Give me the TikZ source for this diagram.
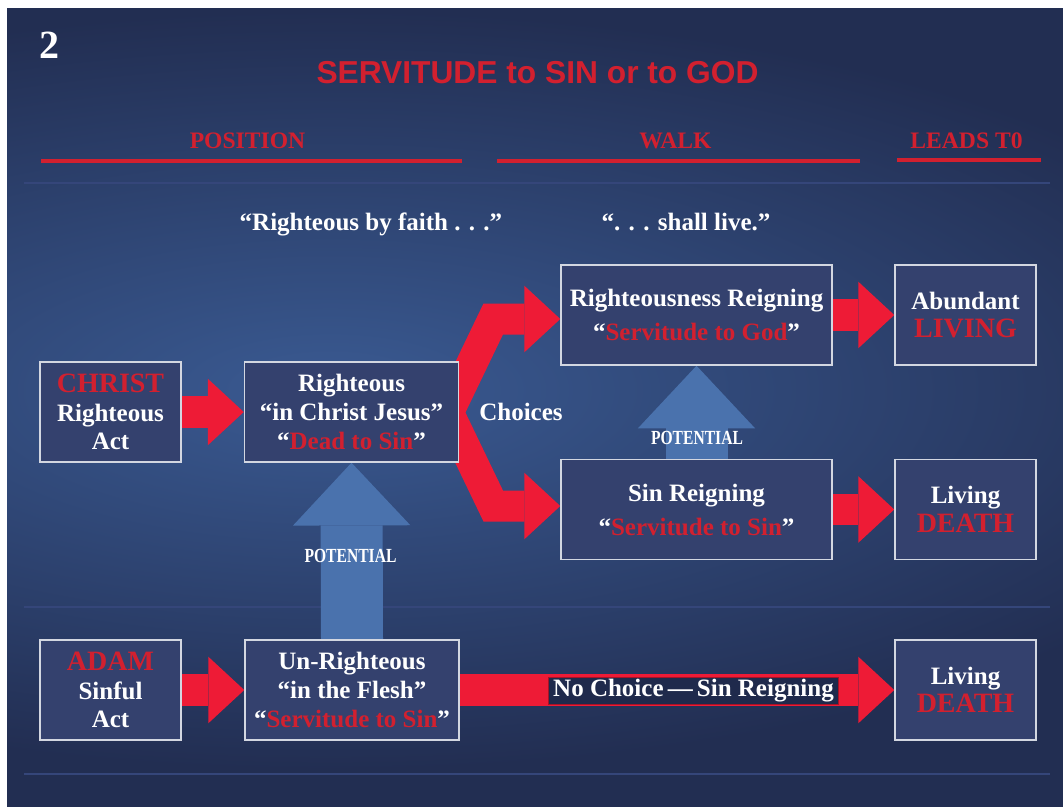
\documentclass[tikz,border=0pt]{standalone}
\usepackage{fontspec}
\setmainfont{Liberation Serif}
\newfontfamily\titlefont{Liberation Sans}
\newfontfamily\potfont{Liberation Serif}[FakeStretch=0.78]
\usepackage{xcolor}
\usetikzlibrary{arrows.meta, positioning, calc}

\definecolor{slidebg}{HTML}{222E52}
\definecolor{slideglow}{HTML}{3A5A92}
\definecolor{rulefaint}{HTML}{35467A}
\definecolor{boxfill}{HTML}{34416E}
\definecolor{boxline}{HTML}{D3D7E1}
\definecolor{arrowred}{HTML}{EE1B36}
\definecolor{txtred}{HTML}{D2202F}
\definecolor{potblue}{HTML}{4A72AD}
\definecolor{labelfill}{HTML}{1F2A4C}

\pgfdeclarelayer{backdrop}
\pgfdeclarelayer{links}
\pgfsetlayers{backdrop,links,main}

\newcommand{\slidefont}{\bfseries\fontsize{18.75}{21.5}\selectfont}
\newcommand{\redtxt}[1]{\textcolor{txtred}{#1}}
\newcommand{\bigred}[1]{{\fontsize{21}{21.5}\selectfont\textcolor{txtred}{#1}}}

\tikzset{
  slidebox/.style={rectangle, fill=boxfill, draw=boxline, line width=1.1pt, inner sep=0pt,
    align=center, minimum height=75pt, text=white, font=\slidefont},
  smallbox/.style={slidebox, minimum width=105.75pt},
  midbox/.style={slidebox, minimum width=160.5pt},
  widebox/.style={slidebox, minimum width=203.25pt},
  header/.style={anchor=base, text=txtred, font=\bfseries\fontsize{17.7}{20}\selectfont},
  saying/.style={anchor=base, text=white, font=\slidefont},
  potlabel/.style={anchor=base, text=white, font=\potfont\bfseries\fontsize{15}{16}\selectfont},
  redarrow/.style={draw=arrowred, line width=23.6pt, -{Triangle[length=27pt, width=50pt, line width=0pt]}},
  forkarrow/.style={redarrow, line width=23.25pt, line join=miter},
  bluearrow/.style={draw=potblue, line width=46.5pt, -{Triangle[length=47pt, width=88pt, line width=0pt]}},
  headrule/.style={draw=txtred, line width=3pt},
  faintrule/.style={draw=rulefaint, line width=2.2pt}
}

\begin{document}
\begin{tikzpicture}[x=0.75pt, y=-0.75pt]
  \useasboundingbox (0,0) rectangle (1063,807);

  % boxes
  \node[smallbox] (christ) at (110.5,412) {\bigred{CHRIST}\\Righteous\\Act};
  \node[midbox]   (rt)     at (351.5,412) {Righteous\\“in Christ Jesus”\\“\redtxt{Dead to Sin}”};
  \node[widebox]  (rr)     at (696.5,315) {Righteousness Reigning\\[4pt]“\redtxt{Servitude to God}”};
  \node[smallbox] (living) at (965.5,315) {Abundant\\\bigred{LIVING}};
  \node[widebox]  (sr)     at (696.5,509.5) {Sin Reigning\\[4pt]“\redtxt{Servitude to Sin}”};
  \node[smallbox] (death)  at (965.5,509.5) {Living\\\bigred{DEATH}};
  \node[smallbox] (adam)   at (110.5,690) {\bigred{ADAM}\\Sinful\\Act};
  \node[midbox]   (ur)     at (352,690) {Un-Righteous\\“in the Flesh”\\“\redtxt{Servitude to Sin}”};
  \node[smallbox] (death2) at (965.5,690) {Living\\\bigred{DEATH}};

  % titles and headings
  \node[anchor=base, text=white, font=\bfseries\fontsize{30}{32}\selectfont] (slideno) at (49.5,58) {2};
  \node[anchor=base, text=txtred, font=\titlefont\bfseries\fontsize{23.8}{26}\selectfont] (title) at (537.5,83) {SERVITUDE to SIN or to GOD};
  \node[header] (hpos)  at (247.5,148) {POSITION};
  \node[header] (hwalk) at (675.5,148) {WALK};
  \node[header] (hlead) at (966.5,148) {LEADS T0};
  \node[saying] (faith)   at (371,230) {“Righteous by faith . . .”};
  \node[saying] (live)    at (686,230) {“. . . shall live.”};
  \node[saying] (choices) at (521,420) {Choices};

  \node[potlabel] (potlow)  at (350.5,562.5) {POTENTIAL};
  \node[potlabel] (pothigh) at (697,444) {POTENTIAL};

  \node[fill=labelfill, draw=arrowred!70!black, line width=0.6pt, text=white, font=\slidefont,
        inner sep=0pt, minimum width=218pt, minimum height=20.6pt] (nochoice) at (693.5,691)
        {No Choice\,—\,Sin Reigning};

  % arrows
  \begin{pgfonlayer}{links}
    \draw[redarrow] (christ.east) -- (rt.west);
    \draw[redarrow] (rr.east) -- (living.west);
    \draw[redarrow] (sr.east) -- (death.west);
    \draw[redarrow] (adam.east) -- (ur.west);
    \draw[redarrow] (ur.east) -- (death2.west);
    \coordinate (fork)     at ($(rt.east)+(-11,0.5)$);
    \coordinate (upbend)   at ($(rt.east)+(34,-93)$);
    \coordinate (downbend) at ($(rt.east)+(34,94)$);
    \draw[forkarrow] (fork) -- (upbend) -- (upbend -| rr.west);
    \draw[forkarrow] (fork) -- (downbend) -- (downbend -| sr.west);
    \draw[bluearrow] (ur.north) -- (rt.south);
    \draw[bluearrow] (sr.north) -- (rr.south);
  \end{pgfonlayer}

  % slide background
  \begin{pgfonlayer}{backdrop}
    \fill[white] (0,0) rectangle (1063,807);
    \fill[slidebg] (7,8) rectangle (1063,807);
    \begin{scope}
      \clip (7,8) rectangle (1063,807);
      \shade[inner color=slideglow, outer color=slidebg] (330,390) ellipse (1000 and 380);
    \end{scope}
    \draw[faintrule] (24,183) -- (1050,183);
    \draw[faintrule] (24,607) -- (1050,607);
    \draw[faintrule] (24,774) -- (1050,774);
    \draw[headrule] (41,161) -- (462,161);
    \draw[headrule] (497,161) -- (860,161);
    \draw[headrule] (897,159.5) -- (1041,159.5);
  \end{pgfonlayer}
\end{tikzpicture}
\end{document}
